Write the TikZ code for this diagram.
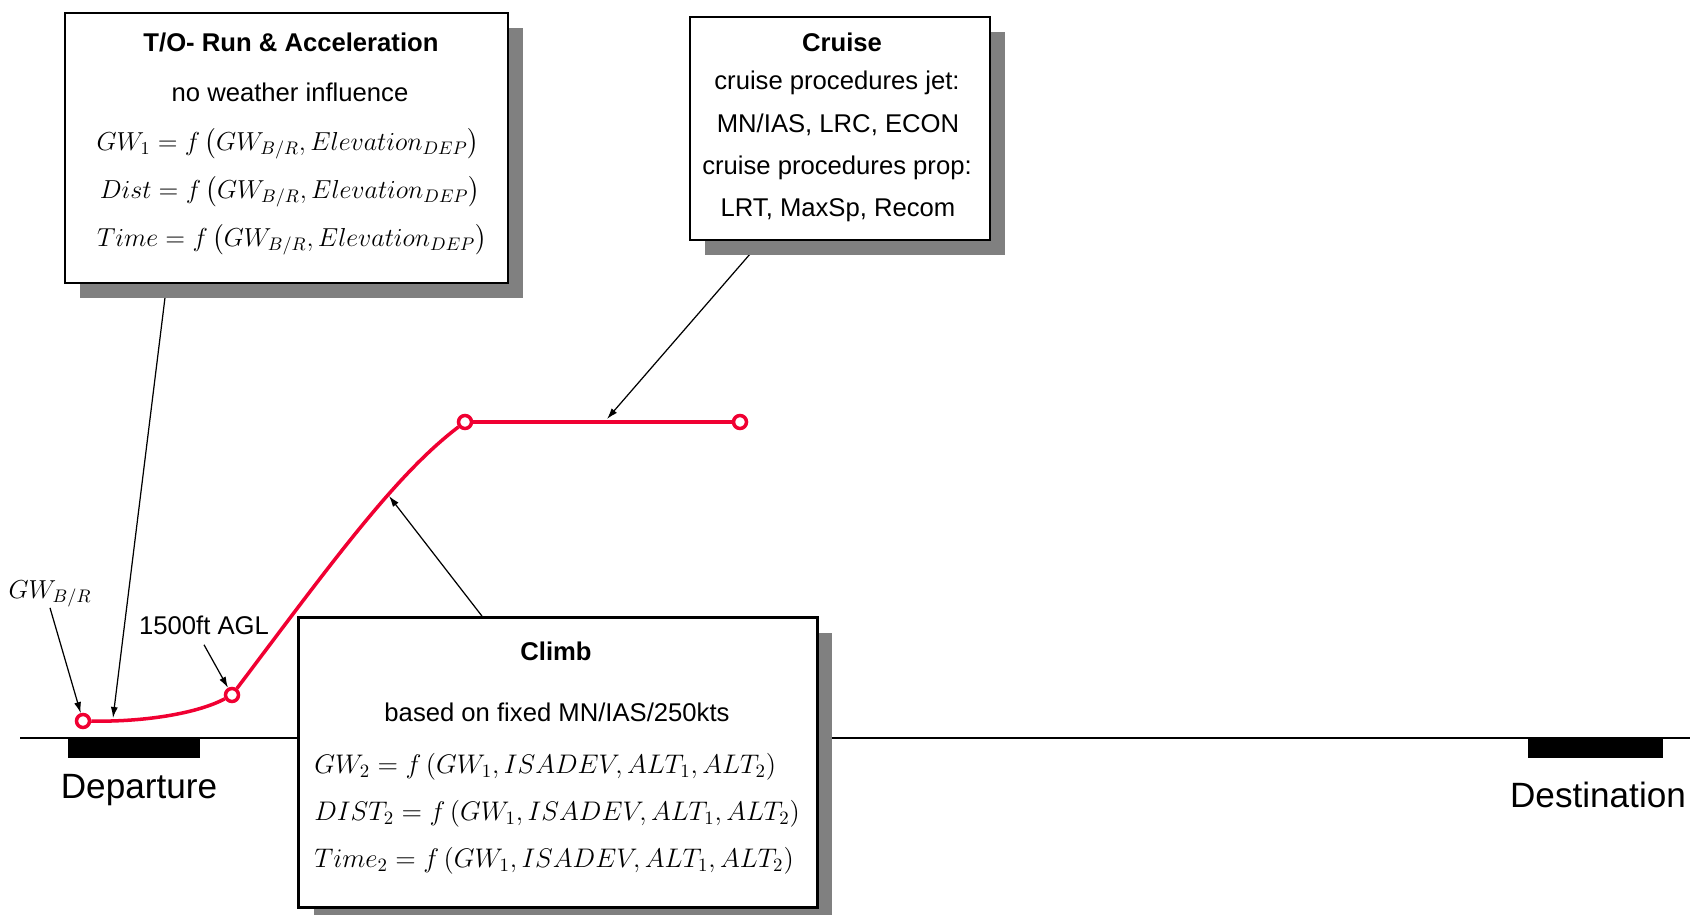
\RequirePackage{fix-cm}
\documentclass[tikz,border=0pt]{standalone}
\usepackage{fontspec}
\setmainfont{Liberation Sans}
\usepackage{amsmath}
\usepackage{tikz}
\usetikzlibrary{shapes,arrows.meta,positioning,calc,shadows,backgrounds}
\definecolor{profilered}{RGB}{240,0,50}
\definecolor{shadowgray}{RGB}{128,128,128}

\tikzset{
  phasebox/.style={rectangle,draw,line width=1.6pt,fill=white,inner sep=0pt,
    drop shadow={shadow xshift=0.3cm,shadow yshift=-0.3cm,fill=shadowgray,opacity=1}},
  boxtitle/.style={font=\fontsize{14.6}{17}\selectfont\bfseries,inner sep=0pt},
  boxtext/.style={font=\fontsize{14.6}{17}\selectfont,inner sep=0pt},
  formula/.style={font=\fontsize{#1}{18}\selectfont,inner sep=0pt},
  formula/.default=14.8,
  waypoint/.style={circle,draw=profilered,fill=white,line width=2pt,minimum size=0.26cm,inner sep=0pt},
  profile/.style={draw=profilered,line width=2pt},
  pointer/.style={-{Latex[length=2.2mm,width=1.4mm]},line width=0.7pt},
  runway/.style={fill=black},
  airport/.style={font=\fontsize{20}{24}\selectfont,anchor=base}
}

\begin{document}
\begin{tikzpicture}[x=0.02cm,y=-0.02cm]
    \useasboundingbox (0,0) rectangle (1690,915);

    % Ground and runways
    \draw[line width=0.8pt] (20,738) -- (1690,738);
    \fill[runway] (68,738) rectangle (200,758);
    \fill[runway] (1528,738) rectangle (1663,758);
    \node[airport] (dep) at (139,798) {Departure};
    \node[airport] (dest) at (1598,807) {Destination};

    % Flight profile
    \node[waypoint] (brake) at (83,721) {};
    \node[waypoint] (agl) at (232,695) {};
    \node[waypoint] (toc) at (465,422) {};
    \node[waypoint] (tod) at (740,422) {};
    \draw[profile] (brake) .. controls (150,722) and (200,712) .. (agl);
    \draw[profile] (agl) .. controls (330,565) and (395,475) .. (toc);
    \draw[profile] (toc) -- (tod);

    % T/O box
    \node[phasebox,minimum width=8.86cm,minimum height=5.4cm] (takeoff) at (286.5,148) {};
    \node[boxtitle] (takeofftitle) at (291,42) {T/O- Run \& Acceleration};
    \node[boxtext] (takeoffnote) at (290,92) {no weather influence};
    \node[formula] (takeoffgw) at (288,144) {$GW_1 = f\left(GW_{B/R}, Elevation_{DEP}\right)$};
    \node[formula] (takeoffdist) at (290,192) {$Dist = f\left(GW_{B/R}, Elevation_{DEP}\right)$};
    \node[formula] (takeofftime) at (292,240) {$Time = f\left(GW_{B/R}, Elevation_{DEP}\right)$};

    % Cruise box
    \node[phasebox,minimum width=6cm,minimum height=4.46cm] (cruise) at (840,128.5) {};
    \node[boxtitle] (cruisetitle) at (842,42) {Cruise};
    \node[boxtext] (cruisejet) at (837,83) {cruise procedures jet:};
    \node[boxtext] (cruisejetlist) at (838,125) {MN/IAS, LRC, ECON};
    \node[boxtext] (cruiseprop) at (837,168) {cruise procedures prop:};
    \node[boxtext] (cruiseproplist) at (838,210) {LRT, MaxSp, Recom};

    % Climb box
    \node[phasebox,minimum width=10.37cm,minimum height=5.8cm] (climb) at (558,762.5) {};
    \node[boxtitle] (climbtitle) at (556,651) {Climb};
    \node[boxtext] (climbnote) at (557,712) {based on fixed MN/IAS/250kts};
    \node[formula=15.3,anchor=west] (climbgw) at (314,767) {$GW_2 = f\left(GW_1, ISADEV, ALT_1, ALT_2\right)$};
    \node[formula=15.3,anchor=west] (climbdist) at (314,814) {$DIST_2 = f\left(GW_1, ISADEV, ALT_1, ALT_2\right)$};
    \node[formula=15.3,anchor=west] (climbtime) at (314,861) {$Time_2 = f\left(GW_1, ISADEV, ALT_1, ALT_2\right)$};

    % Labels on the profile
    \node[formula] (gwlabel) at (50,594) {$GW_{B/R}$};
    \node[boxtext] (agllabel) at (204,625) {1500ft AGL};
    \draw[pointer] (gwlabel.south) -- (brake);
    \draw[pointer] ([yshift=-2mm]agllabel.south) -- (agl);

    % Pointers from the boxes
    \coordinate (roll) at (113,718);
    \coordinate (climbpt) at (389,496);
    \coordinate (cruisept) at (607,419);
    \begin{scope}[on background layer]
        \draw[pointer] ($(takeoff.south west)+(103,0)$) -- (roll);
        \draw[pointer] ($(cruise.south)+(-79,0)$) -- (cruisept);
        \draw[pointer] ($(climb.north)+(-76,0)$) -- (climbpt);
    \end{scope}
\end{tikzpicture}
\end{document}
